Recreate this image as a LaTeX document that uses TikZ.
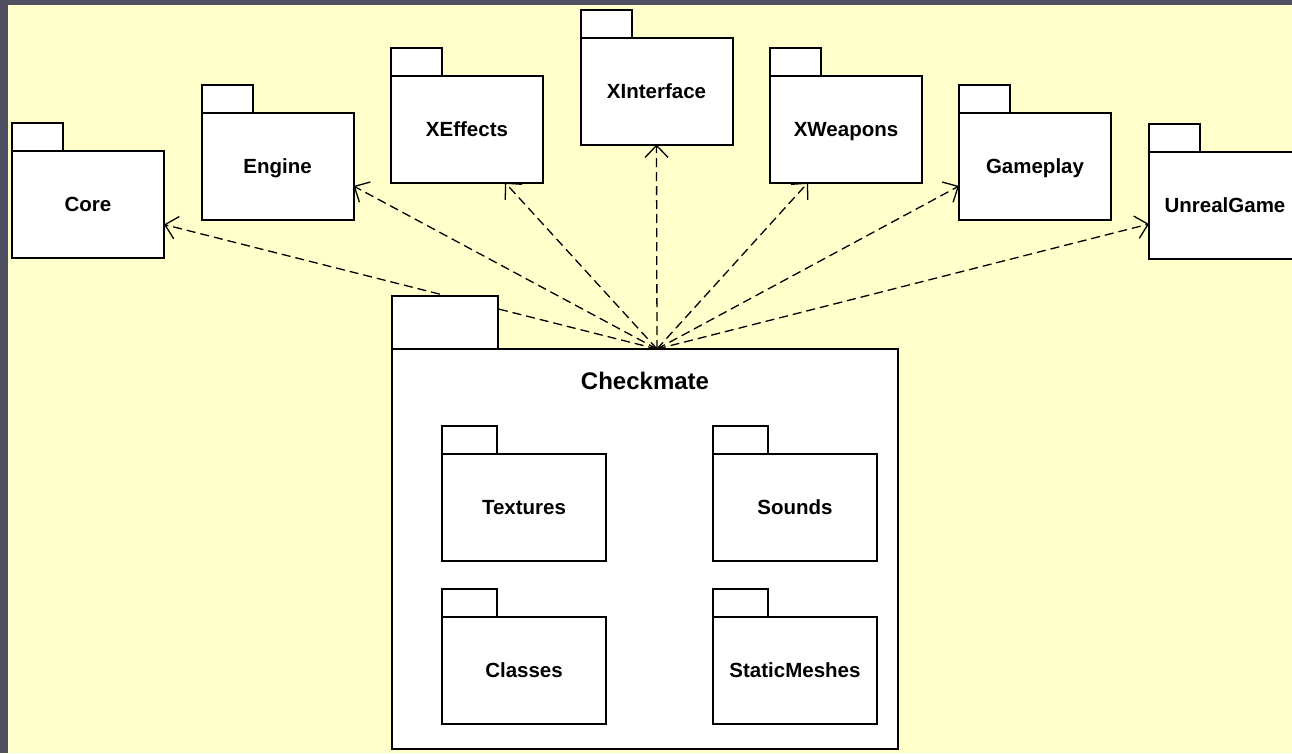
\documentclass[tikz,border=0pt]{standalone}
\usepackage{fontspec}
\setmainfont{Liberation Sans}
\usetikzlibrary{arrows.meta}
\definecolor{bgyellow}{HTML}{FFFFCC}
\definecolor{framegray}{HTML}{4E5061}
\begin{document}
\begin{tikzpicture}[x=1pt,y=-1pt,
  pkg/.style={draw=black, fill=white, line width=2pt, inner sep=0pt, outer sep=0pt,
    text height=14.7pt, text depth=0pt,
    font=\fontsize{20.5}{24}\bfseries\selectfont},
  outerpkg/.style={pkg, minimum width=152pt, minimum height=107pt},
  innerpkg/.style={pkg, minimum width=164pt, minimum height=107pt},
  tabbox/.style={draw=black, fill=white, line width=2pt, inner sep=0pt, outer sep=0pt,
    minimum width=51pt, minimum height=28pt, anchor=south west},
  innertab/.style={tabbox, minimum width=55pt},
  dep/.style={draw=black, line width=1.3pt, dash pattern=on 9pt off 5pt,
    -{Straight Barb[length=12pt, width=23pt, line width=1.3pt]}}
]
\useasboundingbox (0,0) rectangle (1292,753);
\clip (0,0) rectangle (1292,753);
\fill[framegray] (0,0) rectangle (1292,753);
\fill[bgyellow] (8,5) rectangle (1292,753);

% outer packages
\node[outerpkg] (core) at (88,204.5) {Core};
\node[tabbox] (coreTab) at (core.north west) {};
\node[outerpkg] (engine) at (277.5,166) {Engine};
\node[tabbox] (engineTab) at (engine.north west) {};
\node[outerpkg] (xeff) at (467,129) {XEffects};
\node[tabbox] (xeffTab) at (xeff.north west) {};
\node[outerpkg] (xint) at (656.5,91) {XInterface};
\node[tabbox] (xintTab) at (xint.north west) {};
\node[outerpkg] (xweap) at (846,129) {XWeapons};
\node[tabbox] (xweapTab) at (xweap.north west) {};
\node[outerpkg] (game) at (1035,166) {Gameplay};
\node[tabbox] (gameTab) at (game.north west) {};
\node[outerpkg] (unreal) at (1225,205) {UnrealGame};
\node[tabbox] (unrealTab) at (unreal.north west) {};

% Checkmate geometry (for source point)
\coordinate (chkTop) at (645,349);
\coordinate (src) at ([xshift=12pt]chkTop);

% dependencies
\draw[dep] (src) -- ([yshift=-20pt]core.east);
\draw[dep] (src) -- ([yshift=-20pt]engine.east);
\draw[dep] (src) -- ([xshift=38pt]xeff.south);
\draw[dep] (src) -- (xint.south);
\draw[dep] (src) -- ([xshift=-38pt]xweap.south);
\draw[dep] (src) -- ([yshift=-20pt]game.west);
\draw[dep] (src) -- ([yshift=-19pt]unreal.west);

% Checkmate package
\node[draw=black, fill=white, line width=1.4pt, inner sep=0pt, outer sep=0pt,
  minimum width=506pt, minimum height=400pt] (chk) at (645,549) {};
\node[draw=black, fill=white, line width=1.4pt, inner sep=0pt, outer sep=0pt,
  minimum width=106pt, minimum height=53pt, anchor=south west] (chkTab) at (chk.north west) {};
\node[font=\fontsize{24}{28}\bfseries\selectfont] (chkTitle) at (645,381) {Checkmate};

% inner packages
\node[innerpkg] (tex) at (524,507.5) {Textures};
\node[innertab] (texTab) at (tex.north west) {};
\node[innerpkg] (snd) at (795,507.5) {Sounds};
\node[innertab] (sndTab) at (snd.north west) {};
\node[innerpkg] (cls) at (524,670) {Classes};
\node[innertab] (clsTab) at (cls.north west) {};
\node[innerpkg] (sm) at (795,670) {StaticMeshes};
\node[innertab] (smTab) at (sm.north west) {};
\end{tikzpicture}
\end{document}
